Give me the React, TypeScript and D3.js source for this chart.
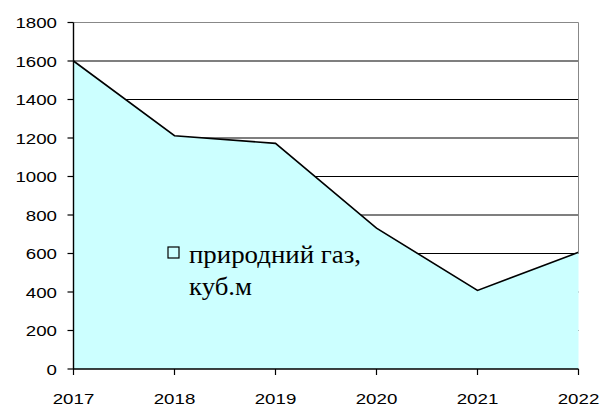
import React from "react";
import * as d3 from "d3";

const years = [2017, 2018, 2019, 2020, 2021, 2022];
const gasValues = [1600, 1212, 1172, 732, 408, 606];
const yTicks = [0, 200, 400, 600, 800, 1000, 1200, 1400, 1600, 1800];
const legendLines = ["природний газ,", "куб.м"];
const legendWidths = [172, 63];

const W = 614;
const H = 407;
const left = 73.5;
const right = 578.5;
const top = 22.5;
const bottom = 369;

export default function App() {
  const x = d3.scaleLinear().domain([2017, 2022]).range([left, right]);
  const y = d3.scaleLinear().domain([0, 1800]).range([bottom, top]);
  const data = years.map((yr, i) => ({ yr, v: gasValues[i] }));
  const area = d3
    .area<{ yr: number; v: number }>()
    .x((d) => x(d.yr))
    .y0(y(0))
    .y1((d) => y(d.v));
  const line = d3
    .line<{ yr: number; v: number }>()
    .x((d) => x(d.yr))
    .y((d) => y(d.v));

  return (
    <svg
      width={W}
      height={H}
      style={{ position: "absolute", left: 0, top: 0, background: "#fff" }}
    >
      <rect x={0} y={0} width={W} height={H} fill="#fff" />
      {yTicks
        .filter((t) => t > 0 && t < 1800)
        .map((t) => (
          <line
            key={"g" + t}
            x1={left}
            x2={right}
            y1={y(t)}
            y2={y(t)}
            stroke="#000"
            strokeWidth={1.2}
          />
        ))}
      <path d={area(data) || ""} fill="#CCFFFF" stroke="none" />
      <path d={line(data) || ""} fill="none" stroke="#000" strokeWidth={1.6} />
      <line x1={left} x2={right} y1={y(1800)} y2={y(1800)} stroke="#888" strokeWidth={1} />
      <line x1={right} x2={right} y1={y(1800)} y2={y(600)} stroke="#888" strokeWidth={1} />
      <line x1={left} x2={left} y1={y(1800)} y2={bottom} stroke="#000" strokeWidth={1.4} />
      <line x1={left} x2={right} y1={bottom} y2={bottom} stroke="#000" strokeWidth={1.4} />
      {yTicks.map((t) => (
        <g key={"y" + t}>
          <line x1={left - 6} x2={left} y1={y(t)} y2={y(t)} stroke="#000" strokeWidth={1.2} />
          <text
            x={57}
            y={y(t)}
            dy="0.36em"
            textAnchor="end"
            fontFamily="'Liberation Sans', Arial, sans-serif"
            fontSize={15.5}
            fill="#000"
            textLength={String(t).length * 10.4}
            lengthAdjust="spacingAndGlyphs"
          >
            {t}
          </text>
        </g>
      ))}
      {years.map((yr) => (
        <g key={"x" + yr}>
          <line x1={x(yr)} x2={x(yr)} y1={bottom} y2={bottom + 6} stroke="#000" strokeWidth={1.2} />
          <text
            x={x(yr) - 20.8}
            y={403.5}
            fontFamily="'Liberation Sans', Arial, sans-serif"
            fontSize={15.5}
            fill="#000"
            textLength={41.6}
            lengthAdjust="spacingAndGlyphs"
          >
            {yr}
          </text>
        </g>
      ))}
      <rect x={168} y={247} width={11} height={11} fill="#CCFFFF" stroke="#000" strokeWidth={1.2} />
      {legendLines.map((s, i) => (
        <text
          key={s}
          x={189}
          y={263 + i * 32}
          fontFamily="'Liberation Serif', 'Times New Roman', serif"
          fontSize={26}
          fill="#000"
          textLength={legendWidths[i]}
          lengthAdjust="spacingAndGlyphs"
        >
          {s}
        </text>
      ))}
    </svg>
  );
}
